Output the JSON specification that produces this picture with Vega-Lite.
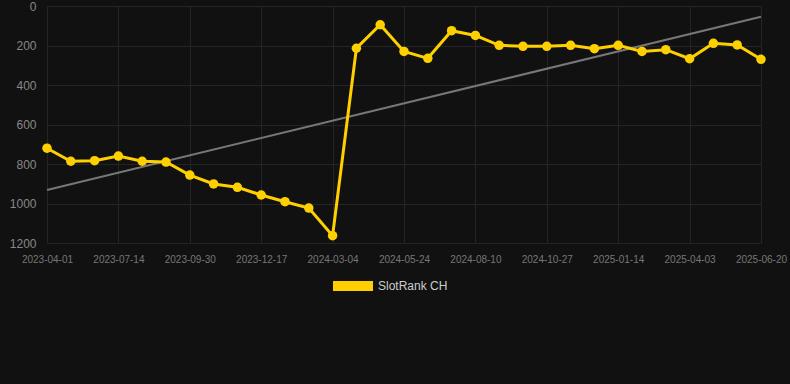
{
  "$schema": "https://vega.github.io/schema/vega-lite/v6.json",
  "autosize": {"type": "none"},
  "width": 750,
  "height": 237,
  "padding": {"left": 40, "top": 6, "right": 0, "bottom": 141},
  "background": "#111111",
  "config": {
    "view": {"stroke": null},
    "axis": {"gridColor": "#252525", "gridWidth": 1, "domain": false, "ticks": false}
  },
  "data": {
    "values": [
      {"date": "2023-04-01", "rank": 720, "trend": 932},
      {"date": "2023-05-16", "rank": 786},
      {"date": "2023-06-18", "rank": 783},
      {"date": "2023-07-14", "rank": 760},
      {"date": "2023-08-09", "rank": 786},
      {"date": "2023-09-04", "rank": 790},
      {"date": "2023-09-30", "rank": 856},
      {"date": "2023-10-26", "rank": 901},
      {"date": "2023-11-21", "rank": 918},
      {"date": "2023-12-17", "rank": 957},
      {"date": "2024-01-12", "rank": 991},
      {"date": "2024-02-07", "rank": 1023},
      {"date": "2024-03-04", "rank": 1163},
      {"date": "2024-03-31", "rank": 214},
      {"date": "2024-04-27", "rank": 95},
      {"date": "2024-05-24", "rank": 230},
      {"date": "2024-06-19", "rank": 265},
      {"date": "2024-07-15", "rank": 125},
      {"date": "2024-08-10", "rank": 149},
      {"date": "2024-09-05", "rank": 199},
      {"date": "2024-10-01", "rank": 204},
      {"date": "2024-10-27", "rank": 204},
      {"date": "2024-11-23", "rank": 199},
      {"date": "2024-12-19", "rank": 216},
      {"date": "2025-01-14", "rank": 199},
      {"date": "2025-02-09", "rank": 230},
      {"date": "2025-03-08", "rank": 221},
      {"date": "2025-04-03", "rank": 267},
      {"date": "2025-04-29", "rank": 189},
      {"date": "2025-05-25", "rank": 197},
      {"date": "2025-06-20", "rank": 270, "trend": 54}
    ]
  },
  "encoding": {
    "x": {
      "field": "date",
      "type": "ordinal",
      "sort": null,
      "scale": {
        "type": "point",
        "range": [7, 721],
        "padding": 0,
        "domain": ["2023-04-01", "2023-05-16", "2023-06-18", "2023-07-14", "2023-08-09", "2023-09-04", "2023-09-30", "2023-10-26", "2023-11-21", "2023-12-17", "2024-01-12", "2024-02-07", "2024-03-04", "2024-03-31", "2024-04-27", "2024-05-24", "2024-06-19", "2024-07-15", "2024-08-10", "2024-09-05", "2024-10-01", "2024-10-27", "2024-11-23", "2024-12-19", "2025-01-14", "2025-02-09", "2025-03-08", "2025-04-03", "2025-04-29", "2025-05-25", "2025-06-20"]
      },
      "axis": {
        "title": null,
        "labelAngle": 0,
        "labelColor": "#777777",
        "labelFontSize": 10,
        "labelFont": "Liberation Sans",
        "labelPadding": 11,
        "labelOverlap": false,
        "grid": true,
        "values": ["2023-04-01", "2023-07-14", "2023-09-30", "2023-12-17", "2024-03-04", "2024-05-24", "2024-08-10", "2024-10-27", "2025-01-14", "2025-04-03", "2025-06-20"]
      }
    }
  },
  "layer": [
    {
      "mark": {"type": "line", "color": "#777777", "strokeWidth": 2, "invalid": "filter"},
      "encoding": {
        "y": {
          "field": "trend",
          "type": "quantitative",
          "scale": {"domain": [0, 1200], "reverse": true, "nice": false},
          "axis": {
            "title": null,
            "values": [0, 200, 400, 600, 800, 1000, 1200],
            "format": "d",
            "labelColor": "#888888",
            "labelFontSize": 12,
            "labelFont": "Liberation Sans",
            "labelPadding": 4,
            "labelOverlap": false,
            "grid": true
          }
        }
      }
    },
    {
      "mark": {"type": "line", "strokeWidth": 3, "point": {"size": 90, "filled": true, "opacity": 1}},
      "encoding": {
        "y": {
          "field": "rank",
          "type": "quantitative",
          "scale": {"domain": [0, 1200], "reverse": true, "nice": false},
          "axis": {
            "title": null,
            "values": [0, 200, 400, 600, 800, 1000, 1200],
            "format": "d",
            "labelColor": "#888888",
            "labelFontSize": 12,
            "labelFont": "Liberation Sans",
            "labelPadding": 4,
            "labelOverlap": false,
            "grid": true
          }
        },
        "color": {
          "datum": "SlotRank CH",
          "type": "nominal",
          "scale": {"range": ["#ffd000"]},
          "legend": {
            "title": null,
            "orient": "none",
            "legendX": 293,
            "legendY": 260,
            "symbolType": "M-1,-0.25H1V0.25H-1Z",
            "symbolSize": 1600,
            "symbolStrokeWidth": 0,
            "symbolFillColor": "#ffd000",
            "labelColor": "#cccccc",
            "labelFontSize": 12,
            "labelFont": "Liberation Sans",
            "labelOffset": 5
          }
        }
      }
    }
  ]
}
